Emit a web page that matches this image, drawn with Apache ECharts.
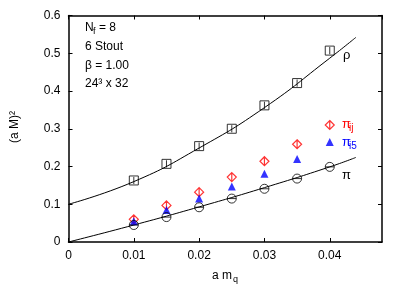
<!DOCTYPE html>
<html><head><meta charset="utf-8">
<script src="https://cdn.jsdelivr.net/npm/echarts@6/dist/echarts.min.js"></script>
<style>html,body{margin:0;padding:0;background:#fff}#c{width:405px;height:289px}</style>
</head><body><div id="c"></div>
<script>
var amq = [0.01, 0.015, 0.02, 0.025, 0.03, 0.035, 0.04];
var rho = [0.163, 0.207, 0.254, 0.300, 0.362, 0.421, 0.507];
var piIJ = [0.060, 0.097, 0.132, 0.172, 0.214, 0.259, 0.310];
var piI5 = [0.055, 0.085, 0.115, 0.147, 0.181, 0.220, 0.265];
var pi = [0.045, 0.066, 0.092, 0.115, 0.141, 0.168, 0.199];
var rhoFitX = [0, 0.01, 0.02, 0.03, 0.04, 0.044];
var rhoFitY = [0.100, 0.160, 0.249, 0.356, 0.487, 0.542];
var piFitX = [0, 0.01, 0.02, 0.03, 0.04, 0.044];
var piFitY = [0.000, 0.045, 0.093, 0.144, 0.199, 0.224];
var xTicks = [0, 0.01, 0.02, 0.03, 0.04];
var yTicks = [0, 0.1, 0.2, 0.3, 0.4, 0.5, 0.6];

function pairs(xs, ys) { return xs.map(function (x, i) { return [x, ys[i]]; }); }
var FONT = '"Liberation Sans", Arial, sans-serif';
var chart = echarts.init(document.getElementById('c'), null, {renderer: 'canvas'});
var axisCommon = {
  axisLine: {show: true, onZero: false, lineStyle: {color: '#000', width: 1.5}},
  axisTick: {show: true, inside: true, length: 4, lineStyle: {color: '#000', width: 1}},
  splitLine: {show: false}
};
function txt(x, y, s, size, color, extra) {
  var st = {text: s, x: 0, y: 0, fontSize: size, fontFamily: FONT, fill: color || '#000', align: 'left', verticalAlign: 'middle'};
  var el = {type: 'text', x: x, y: y, style: st, z: 100};
  if (extra) for (var k in extra) el[k] = extra[k];
  return el;
}
var option = {
  animation: false,
  grid: {left: 68.5, right: 23, top: 15.5, bottom: 47, containLabel: false},
  xAxis: [
    Object.assign({type: 'value', min: 0, max: 0.048, interval: 0.01, position: 'bottom',
      axisLabel: {color: '#000', fontSize: 12, fontFamily: FONT, margin: 8, showMaxLabel: false,
        formatter: function (v) { return xTicks.indexOf(Math.round(v * 1000) / 1000) >= 0 ? String(Math.round(v * 1000) / 1000) : ''; }}}, axisCommon),
    Object.assign({type: 'value', min: 0, max: 0.048, interval: 0.01, position: 'top',
      axisLabel: {show: false}}, axisCommon)
  ],
  yAxis: [
    Object.assign({type: 'value', min: 0, max: 0.6, interval: 0.1, position: 'left',
      axisLabel: {color: '#000', fontSize: 12, fontFamily: FONT, margin: 8,
        formatter: function (v) { return String(Math.round(v * 10) / 10); }}}, axisCommon),
    Object.assign({type: 'value', min: 0, max: 0.6, interval: 0.1, position: 'right',
      axisLabel: {show: false}}, axisCommon)
  ],
  series: [
    {type: 'line', data: pairs(rhoFitX, rhoFitY), smooth: true, showSymbol: false, symbol: 'none',
      lineStyle: {color: '#000', width: 1}, z: 2},
    {type: 'line', data: pairs(piFitX, piFitY), smooth: true, showSymbol: false, symbol: 'none',
      lineStyle: {color: '#000', width: 1}, z: 2},
    {type: 'scatter', data: pairs(amq, rho), symbol: 'path://M0,0H10V10H0Z M5,1V9',
      symbolSize: 9, itemStyle: {color: 'rgba(0,0,0,0)', borderColor: '#000', borderWidth: 1}, z: 3},
    {type: 'scatter', data: pairs(amq, piIJ), symbol: 'path://M5,0L10,5L5,10L0,5Z M5,0V10',
      symbolSize: 9, itemStyle: {color: 'rgba(0,0,0,0)', borderColor: '#ff0000', borderWidth: 1.2}, z: 3},
    {type: 'scatter', data: pairs(amq, piI5), symbol: 'triangle',
      symbolSize: 8, itemStyle: {color: '#0000ff'}, z: 3},
    {type: 'scatter', data: pairs(amq, pi), symbol: 'path://M0,5A5,5 0 1,1 10,5A5,5 0 1,1 0,5Z M0,5H10',
      symbolSize: 9, itemStyle: {color: 'rgba(0,0,0,0)', borderColor: '#000', borderWidth: 1}, z: 3}
  ],
  graphic: [
    txt(85, 28, 'N', 12), txt(93, 32, 'f', 9), txt(99, 28, '= 8', 12),
    txt(85, 47, '6 Stout', 12),
    txt(85, 66, 'β = 1.00', 12),
    txt(85, 84, '24³ x 32', 12),
    txt(343, 55, 'ρ', 13),
    txt(342, 124, 'π', 13, '#ff0000'), txt(349, 128, 'ij', 10, '#ff0000'),
    txt(342, 142, 'π', 13, '#0000ff'), txt(349, 146, 'i5', 10, '#0000ff'),
    txt(342, 175, 'π', 13),
    txt(212, 276, 'a m', 12), txt(233, 280, 'q', 9),
    txt(15, 127, '(a M)²', 12, '#000', {rotation: Math.PI / 2, style: {text: '(a M)²', x: 0, y: 0, fontSize: 12, fontFamily: FONT, fill: '#000', align: 'center', verticalAlign: 'middle'}})
  ]
};
chart.setOption(option);
</script></body></html>
